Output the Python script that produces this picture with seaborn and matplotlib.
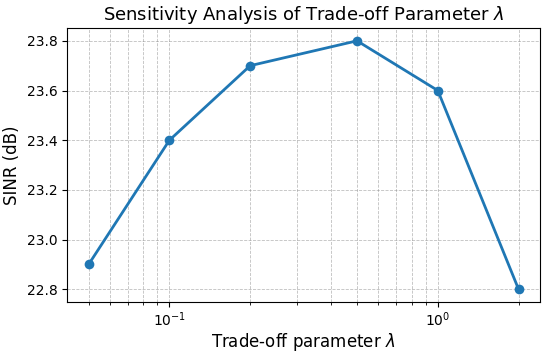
import matplotlib
matplotlib.use('Agg')
import matplotlib.pyplot as plt
import seaborn as sns

# Sensitivity of SINR to the trade-off parameter lambda
lambdas = [0.05, 0.1, 0.2, 0.5, 1.0, 2.0]
sinr_db = [22.9, 23.4, 23.7, 23.8, 23.6, 22.8]

fig, ax = plt.subplots(figsize=(5.5, 3.55), dpi=100)
sns.lineplot(x=lambdas, y=sinr_db, marker='o', color='#1f77b4', linewidth=2,
             markersize=7, markeredgewidth=0, ax=ax)
ax.set_xscale('log')
ax.grid(True, which='both', linestyle='--', linewidth=0.6, color='gray', alpha=0.5)
ax.tick_params(axis='x', which='major', pad=3)
ax.set_xlabel(r'Trade-off parameter $\lambda$', fontsize=12, labelpad=1)
ax.set_ylabel('SINR (dB)', fontsize=12)
ax.set_title(r'Sensitivity Analysis of Trade-off Parameter $\lambda$', fontsize=13)
ax.set_yticks([22.8, 23.0, 23.2, 23.4, 23.6, 23.8])
fig.subplots_adjust(left=0.122, right=0.982, top=0.92, bottom=0.15)
fig.savefig('out.png', dpi=100)
